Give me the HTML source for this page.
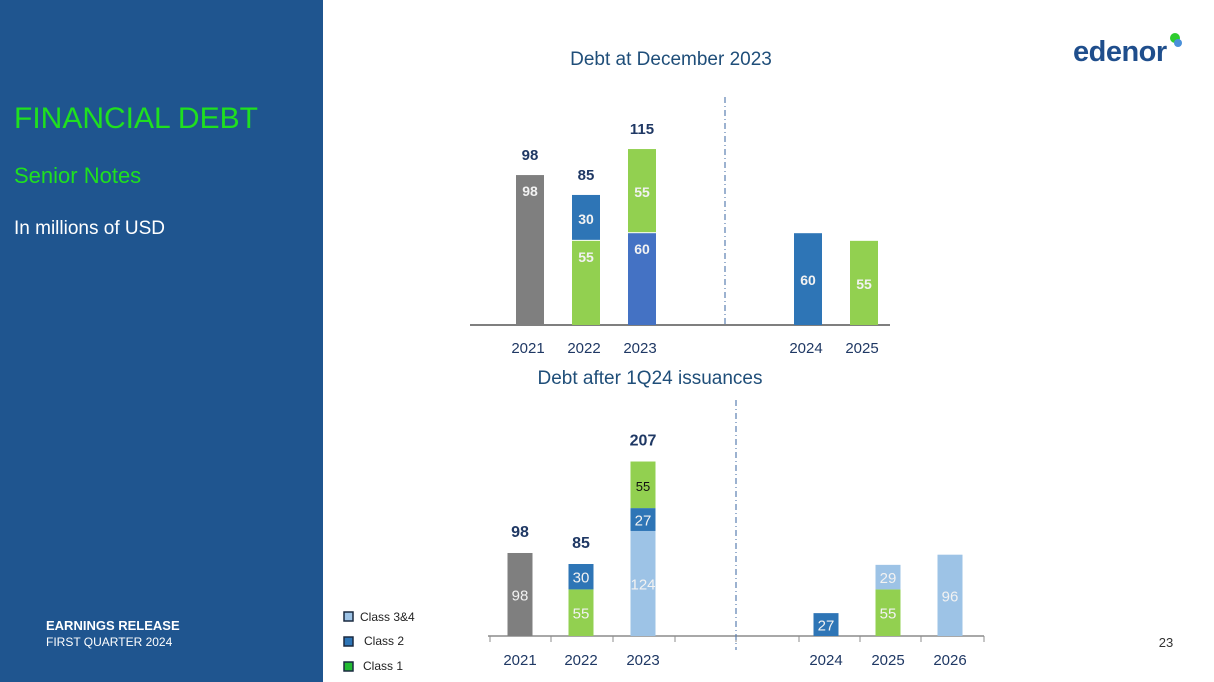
<!DOCTYPE html>
<html><head><meta charset="utf-8">
<style>
body{margin:0;width:1214px;height:682px;overflow:hidden;background:#fff;font-family:"Liberation Sans",sans-serif;}
svg{display:block}
</style></head>
<body>
<svg id="s" width="1214" height="682" xmlns="http://www.w3.org/2000/svg">
<rect x="0" y="0" width="323" height="682" fill="#1f558f"/>
<text x="14" y="128" font-size="30" fill="#1fe01f">FINANCIAL DEBT</text>
<text x="14" y="183" font-size="22" fill="#1fe01f">Senior Notes</text>
<text x="14" y="234" font-size="19" fill="#fff">In millions of USD</text>
<text x="46" y="630" font-size="13" font-weight="bold" fill="#fff">EARNINGS RELEASE</text>
<text x="46" y="646" font-size="12" fill="#fff">FIRST QUARTER 2024</text>
<g>
<text x="1073" y="61" font-size="29" font-weight="bold" fill="#1f4e8c" letter-spacing="-0.5">edenor</text>
<circle cx="1175" cy="38" r="5" fill="#2ecc2e"/>
<circle cx="1178" cy="43" r="4" fill="#4a90d9"/>
</g>
<text x="671" y="65" font-size="19" fill="#1f4e79" text-anchor="middle">Debt at December 2023</text>
<text x="650" y="384" font-size="19" fill="#1f4e79" text-anchor="middle">Debt after 1Q24 issuances</text>
<text x="1166" y="647" font-size="13" fill="#333" text-anchor="middle">23</text>
<g>
<rect x="344" y="612" width="9" height="9" fill="#9dc3e6" stroke="#1a2a40" stroke-width="1.5"/>
<text x="360" y="621" font-size="12" fill="#222">Class 3&amp;4</text>
<rect x="344" y="637" width="9" height="9" fill="#2e75b6" stroke="#1a2a40" stroke-width="1.5"/>
<text x="364" y="645" font-size="12" fill="#222">Class 2</text>
<rect x="344" y="662" width="9" height="9" fill="#22bb33" stroke="#1a2a40" stroke-width="1.5"/>
<text x="363" y="670" font-size="12" fill="#222">Class 1</text>
</g>
<g id="c1"></g>
<g id="c2"></g>
</svg>
<script>
// Chart 1 data
const c1Years = ["2021","2022","2023","2024","2025"];
const c1Bottom = [98,55,60,60,55];
const c1Top = [0,30,55,0,0];
const c1BottomKind = ["gray","green","blue2","blue","green"];
const c1TopKind = ["","blue","green","",""];
const c1Totals = ["98","85","115","",""];
// Chart 2 data
const c2Years = ["2021","2022","2023","2024","2025","2026"];
const c2Class34 = [0,0,124,0,29,96];
const c2Class2 = [0,30,27,27,0,0];
const c2Class1 = [0,55,55,0,55,0];
const c2Other = [98,0,0,0,0,0];
const c2Totals = ["98","85","207","","",""];

const NS="http://www.w3.org/2000/svg";
const colors={gray:"#7f7f7f",green:"#92d050",blue:"#2e75b6",blue2:"#4472c4",light:"#9dc3e6"};
function mk(p,tag,attrs){const e=document.createElementNS(NS,tag);for(const k in attrs)e.setAttribute(k,attrs[k]);p.appendChild(e);return e;}
function txt(p,x,y,s,size,fill,bold){const t=mk(p,"text",{x:x,y:y,"font-size":size,fill:fill,"text-anchor":"middle","font-weight":bold?"bold":"normal"});t.textContent=s;return t;}

// Chart 1
const g1=document.getElementById("c1");
const base1=325, k1=1.53, w1=28;
const x1=[530,586,642,808,864];
function y1(v){return base1-v*k1;}
const ax1=mk(g1,"line",{x1:470,y1:base1,x2:890,y2:base1,stroke:"#7f7f7f","stroke-width":2});


const dv1=mk(g1,"line",{x1:725,y1:97,x2:725,y2:325,stroke:"#5b7fb0","stroke-width":1.2,"stroke-dasharray":"6,3,1,3"});


c1Years.forEach((yr,i)=>{
  const cx=x1[i];
  const hb=c1Bottom[i]*k1;
  const r=mk(g1,"rect",{x:cx-w1/2,y:y1(c1Bottom[i]),width:w1,height:hb,fill:colors[c1BottomKind[i]]});
  
  
  const lbl=txt(g1,cx,(i>=3)?y1(c1Bottom[i]/2)+6:y1(c1Bottom[i])+21,String(c1Bottom[i]),14,"#f2f2f2",true);
  
  
  if(c1Top[i]>0){
    const yt=y1(c1Bottom[i]+c1Top[i]);
    const r2=mk(g1,"rect",{x:cx-w1/2,y:yt,width:w1,height:c1Top[i]*k1-1,fill:colors[c1TopKind[i]]});
    
    
    const l2=txt(g1,cx,yt+c1Top[i]*k1/2+6,String(c1Top[i]),14,"#f2f2f2",true);
    
    
  }
  if(c1Totals[i]){
    const t=txt(g1,cx,y1(c1Bottom[i]+c1Top[i])-15,c1Totals[i],15,"#1f3864",true);
    
    
  }
  const yl=txt(g1,cx-2,353,yr,15,"#1f3864",false);
  
  
});

// Chart 2
const g2=document.getElementById("c2");
const base2=636, k2=0.847, w2=25;
const x2=[520,581,643,826,888,950];
function y2(v){return base2-v*k2;}
const ax2=mk(g2,"line",{x1:488,y1:base2,x2:984,y2:base2,stroke:"#8c8c8c","stroke-width":1.5});


[490,551,613,675,736,799,860,921,984].forEach((tx,j)=>{
  const t=mk(g2,"line",{x1:tx,y1:base2,x2:tx,y2:base2+6,stroke:"#8c8c8c","stroke-width":1});
  
  
});
const dv2=mk(g2,"line",{x1:736,y1:400,x2:736,y2:650,stroke:"#5b7fb0","stroke-width":1.2,"stroke-dasharray":"6,3,1,3"});


c2Years.forEach((yr,i)=>{
  const cx=x2[i];
  const segs=[[c2Other[i],colors.gray,"other"],[c2Class1[i],colors.green,"class1"],[c2Class34[i],colors.light,"class34"],[c2Class2[i],colors.blue,"class2"]];
  let order;
  if(yr==="2023") order=[segs[2],segs[3],segs[1]];
  else order=[segs[0],segs[1],segs[3],segs[2]];
  let acc=0;
  order.forEach(s=>{
    if(s[0]<=0)return;
    const yt=y2(acc+s[0]);
    const r=mk(g2,"rect",{x:cx-w2/2,y:yt,width:w2,height:s[0]*k2,fill:s[1]});
    
    
    const dark=(yr==="2023"&&s[2]==="class1");
    const l=txt(g2,cx,yt+s[0]*k2/2+6,String(s[0]),dark?13:15,dark?"#111":"#f2f2f2",false);
    
    
    acc+=s[0];
  });
  if(c2Totals[i]){
    const t=txt(g2,cx,y2(acc)-16,c2Totals[i],16,"#1f3864",true);
    
    
  }
  const yl=txt(g2,cx,665,yr,15,"#1f3864",false);
  
  
});
</script>
</body></html>
